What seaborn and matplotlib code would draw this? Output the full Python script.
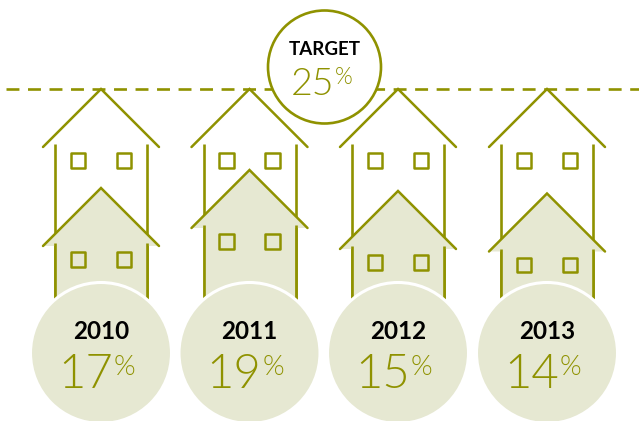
import matplotlib.pyplot as plt
import matplotlib.patches as mpatches
import seaborn as sns

# ---------- data ----------
years = ["2010", "2011", "2012", "2013"]
values = [17, 19, 15, 14]
target_label = "TARGET"
target_value = 25

# ---------- layout (pixels of the picture) ----------
OLIVE = "#8f9200"
PALE = "#e6e8d2"
centers = [101, 249.5, 398, 547]
fill_tops = [188, 170, 191, 193.5]
target_top = 89
bottom = 300

sns.set_theme(style="white")
plt.rcParams["font.family"] = ["Lato", "DejaVu Sans"]

fig = plt.figure(figsize=(6.39, 4.21), dpi=100)
ax = fig.add_axes([0, 0, 1, 1])


def draw_house(cx, top, filled, z):
    if filled:
        ax.add_patch(mpatches.Polygon(
            [(cx, top), (cx - 58, top + 58), (cx - 46, top + 58), (cx - 46, bottom),
             (cx + 46, bottom), (cx + 46, top + 58), (cx + 58, top + 58)],
            closed=True, facecolor=PALE, edgecolor="none", zorder=z
        ))
    ax.plot([cx - 58, cx, cx + 58], [top + 58, top, top + 58],
            color=OLIVE, linewidth=1.8, solid_joinstyle="miter", zorder=z + 0.1)
    for side in (-46, 46):
        ax.plot([cx + side, cx + side], [top + 55, bottom],
                color=OLIVE, linewidth=1.9, solid_capstyle="butt", zorder=z + 0.1)
    sns.scatterplot(
        x=[cx - 23, cx + 23], y=[top + 71.5, top + 71.5],
        marker="s", s=105, facecolor="none", edgecolor=OLIVE,
        linewidth=1.8, zorder=z + 0.2, ax=ax
    )


# ---------- target line ----------
sns.lineplot(
    x=[6, 650], y=[target_top - 0.5, target_top - 0.5],
    color=OLIVE, linewidth=1.9, estimator=None,
    linestyle=(0, (4.9, 3.25)), dash_capstyle="butt", zorder=1, ax=ax
)

# ---------- houses ----------
for cx, top in zip(centers, fill_tops):
    draw_house(cx, target_top, False, 2)
    draw_house(cx, top, True, 3)

# ---------- year circles ----------
for cx, year, val in zip(centers, years, values):
    ax.add_patch(mpatches.Circle((cx, 353), 70.5, facecolor=PALE, edgecolor="white",
                                 linewidth=2.2, zorder=5))
    ax.text(cx, 339, year, ha="center", va="baseline", fontsize=17.5,
            fontweight="bold", color="black", zorder=6)
    ax.text(cx + 12, 388, str(val), ha="right", va="baseline", fontsize=34,
            fontweight=300, color=OLIVE, zorder=6)
    ax.text(cx + 13, 375, "%", ha="left", va="baseline", fontsize=20,
            fontweight=300, color=OLIVE, zorder=6)

# ---------- target circle ----------
ax.add_patch(mpatches.Circle((324.5, 67), 56.5, facecolor="white", edgecolor=OLIVE,
                             linewidth=1.9, zorder=5))
ax.text(324.5, 55, target_label, ha="center", va="baseline", fontsize=13.5,
        fontweight="bold", color="black", zorder=6)
ax.text(334, 95, str(target_value), ha="right", va="baseline", fontsize=27,
        fontweight=300, color=OLIVE, zorder=6)
ax.text(334.5, 84, "%", ha="left", va="baseline", fontsize=16.5,
        fontweight=300, color=OLIVE, zorder=6)

ax.set_xlim(0, 639)
ax.set_ylim(421, 0)
ax.axis("off")

plt.savefig("out.png", dpi=100)
